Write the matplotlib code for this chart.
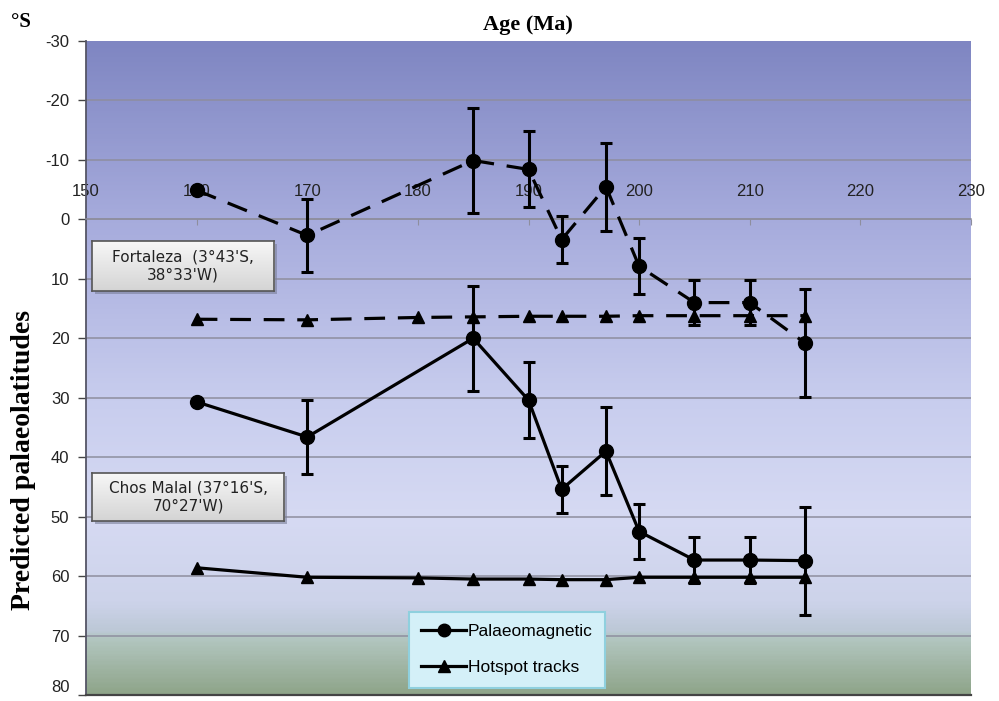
import numpy as np
import matplotlib.pyplot as plt
from matplotlib.colors import LinearSegmentedColormap
from matplotlib.lines import Line2D

plt.rcParams['axes.unicode_minus'] = False

# --- DATA ---
ages = [160, 170, 185, 190, 193, 197, 200, 205, 210, 215]
pole_err = [np.nan, 6.2, 8.8, 6.4, 4.0, 7.4, 4.7, 3.8, 3.8, 9.1]
fortaleza_pmag = [-4.9, 2.7, -9.9, -8.4, 3.4, -5.5, 7.9, 14.0, 14.0, 20.8]
chos_malal_pmag = [30.7, 36.6, 20.0, 30.4, 45.4, 39.0, 52.5, 57.3, 57.3, 57.4]

hotspot_ages = [160, 170, 180, 185, 190, 193, 197, 200, 205, 210, 215]
fortaleza_hotspot = [16.8, 16.9, 16.5, 16.4, 16.3, 16.3, 16.3, 16.2, 16.2, 16.2, 16.2]
chos_malal_hotspot = [58.6, 60.2, 60.3, 60.5, 60.5, 60.6, 60.6, 60.2, 60.2, 60.2, 60.2]

x_ticks = [150, 160, 170, 180, 190, 200, 210, 220, 230]
y_ticks = [-30, -20, -10, 0, 10, 20, 30, 40, 50, 60, 70, 80]

site_labels = ["Fortaleza  (3°43'S,\n38°33'W)", "Chos Malal (37°16'S,\n70°27'W)"]
legend_labels = ["Palaeomagnetic", "Hotspot tracks"]

W, H = 999, 701
SERIF = "Liberation Serif"
SANS = "Liberation Sans"


def px_rect(x0, y0, x1, y1):
    # pixel box (top-left origin) -> figure fraction rect
    return [x0 / W, 1 - y1 / H, (x1 - x0) / W, (y1 - y0) / H]


fig = plt.figure(figsize=(W / 100, H / 100), dpi=100)
axes_rect = px_rect(86, 41, 971, 695)

# 1. BACKGROUND GRADIENT (blue top -> pale middle -> greenish bottom)
bg = fig.add_axes(axes_rect, zorder=0)
stops = [(0.0, "#7f86c2"), (0.27, "#a6abdc"), (0.55, "#c8cdee"), (0.73, "#d6daf3"),
         (0.86, "#cdd3ea"), (0.905, "#bcc8d6"), (0.915, "#b3c7c1"), (1.0, "#8fa58a")]
cmap = LinearSegmentedColormap.from_list("bg", stops)
grad = np.linspace(0, 1, 400).reshape(-1, 1)
bg.imshow(grad, cmap=cmap, aspect="auto", extent=(0, 1, 0, 1), origin="upper")
bg.set_axis_off()

# 2. MAIN AXES
ax = fig.add_axes(axes_rect, zorder=1)
ax.patch.set_alpha(0)

for y in y_ticks[1:-1]:
    ax.axhline(y, color="#8e8e9e", lw=1.1, zorder=1)

lw = 2.3
dash = (0, (6.5, 4))
# Fortaleza (dashed)
ax.plot(ages, fortaleza_pmag, color="black", lw=lw, ls=dash, marker="o", ms=10, zorder=4)
ax.plot(hotspot_ages, fortaleza_hotspot, color="black", lw=lw, ls=dash, marker="^", ms=9, zorder=4)
ax.errorbar(ages, fortaleza_pmag, yerr=pole_err, fmt="none", ecolor="black",
            elinewidth=2.2, capsize=4, capthick=2.2, zorder=5)
# Chos Malal (solid)
ax.plot(ages, chos_malal_pmag, color="black", lw=lw, marker="o", ms=10, zorder=4)
ax.plot(hotspot_ages, chos_malal_hotspot, color="black", lw=lw, marker="^", ms=9, zorder=4)
ax.errorbar(ages, chos_malal_pmag, yerr=pole_err, fmt="none", ecolor="black",
            elinewidth=2.2, capsize=4, capthick=2.2, zorder=5)

ax.set_xlim(150, 230)
ax.set_ylim(80, -30)
ax.set_yticks(y_ticks)
ax.set_xticks(x_ticks)

# x axis sits on the 0 line, labels above it
ax.spines["top"].set_position(("data", 0))
ax.spines["top"].set_color("#8e8e9e")
ax.spines["top"].set_linewidth(1.1)
ax.xaxis.tick_top()
ax.tick_params(axis="x", direction="in", length=4, color="#8e8e9e", pad=15,
               labelsize=12, labelcolor="#222222")
ax.tick_params(axis="y", direction="out", length=6, width=1, color="#444444",
               labelsize=12, labelcolor="#222222", pad=6)
for lab in ax.get_xticklabels() + ax.get_yticklabels():
    lab.set_fontfamily(SANS)
# bottom label sits on the figure edge; lift it a little so it stays whole
ax.get_yticklabels()[-1].set_verticalalignment("bottom")
ax.spines["right"].set_visible(False)
ax.spines["left"].set_color("#555566")
ax.spines["left"].set_linewidth(1.3)
ax.spines["bottom"].set_color("#444444")
ax.spines["bottom"].set_linewidth(1.6)

# 3. LEGEND
handles = [Line2D([], [], color="black", lw=lw, marker="o", ms=9),
           Line2D([], [], color="black", lw=lw, marker="^", ms=9)]
leg = ax.legend(handles, legend_labels, loc="center",
                bbox_to_anchor=(0.4757, 0.069),
                prop={"family": SANS, "size": 12.5}, handlelength=2.6, handletextpad=0.1,
                borderpad=0.7, labelspacing=1.2, fancybox=False, framealpha=1,
                facecolor="#d4f0f8", edgecolor="#8fd0de", borderaxespad=0)
leg.get_frame().set_linewidth(1.5)
leg.set_zorder(10)

# 4. SITE LABEL BOXES
box_gray = LinearSegmentedColormap.from_list("box", ["#f7f7f7", "#d4d4d4"])
for text, (x0, y0, x1, y1) in zip(site_labels, [(92, 241, 274, 291), (92, 473, 284, 521)]):
    sh = fig.add_axes(px_rect(x0 + 3, y0 + 3, x1 + 3, y1 + 3), zorder=2)
    sh.set_facecolor("#7a7f99")
    sh.patch.set_alpha(0.6)
    sh.set_xticks([]); sh.set_yticks([])
    for s in sh.spines.values():
        s.set_visible(False)
    bx = fig.add_axes(px_rect(x0, y0, x1, y1), zorder=3)
    bx.imshow(grad, cmap=box_gray, aspect="auto", extent=(0, 1, 0, 1), origin="upper")
    bx.set_xticks([]); bx.set_yticks([])
    for s in bx.spines.values():
        s.set_color("#555555")
        s.set_linewidth(1.2)
    bx.text(0.5, 0.5, text, ha="center", va="center", fontsize=11, family="DejaVu Sans",
            color="#222222", linespacing=1.2, transform=bx.transAxes)

# 5. TITLES
fig.text(528 / W, 1 - 25 / H, "Age (Ma)", ha="center", va="center", family=SERIF,
         fontsize=16, fontweight="bold")
fig.text(11 / W, 1 - 22 / H, "°S", ha="left", va="center", family=SERIF,
         fontsize=15, fontweight="bold")
fig.text(24 / W, 1 - 460 / H, "Predicted palaeolatitudes", ha="center", va="center",
         rotation=90, family=SERIF, fontsize=20, fontweight="bold")

plt.savefig("out.png", dpi=100)
